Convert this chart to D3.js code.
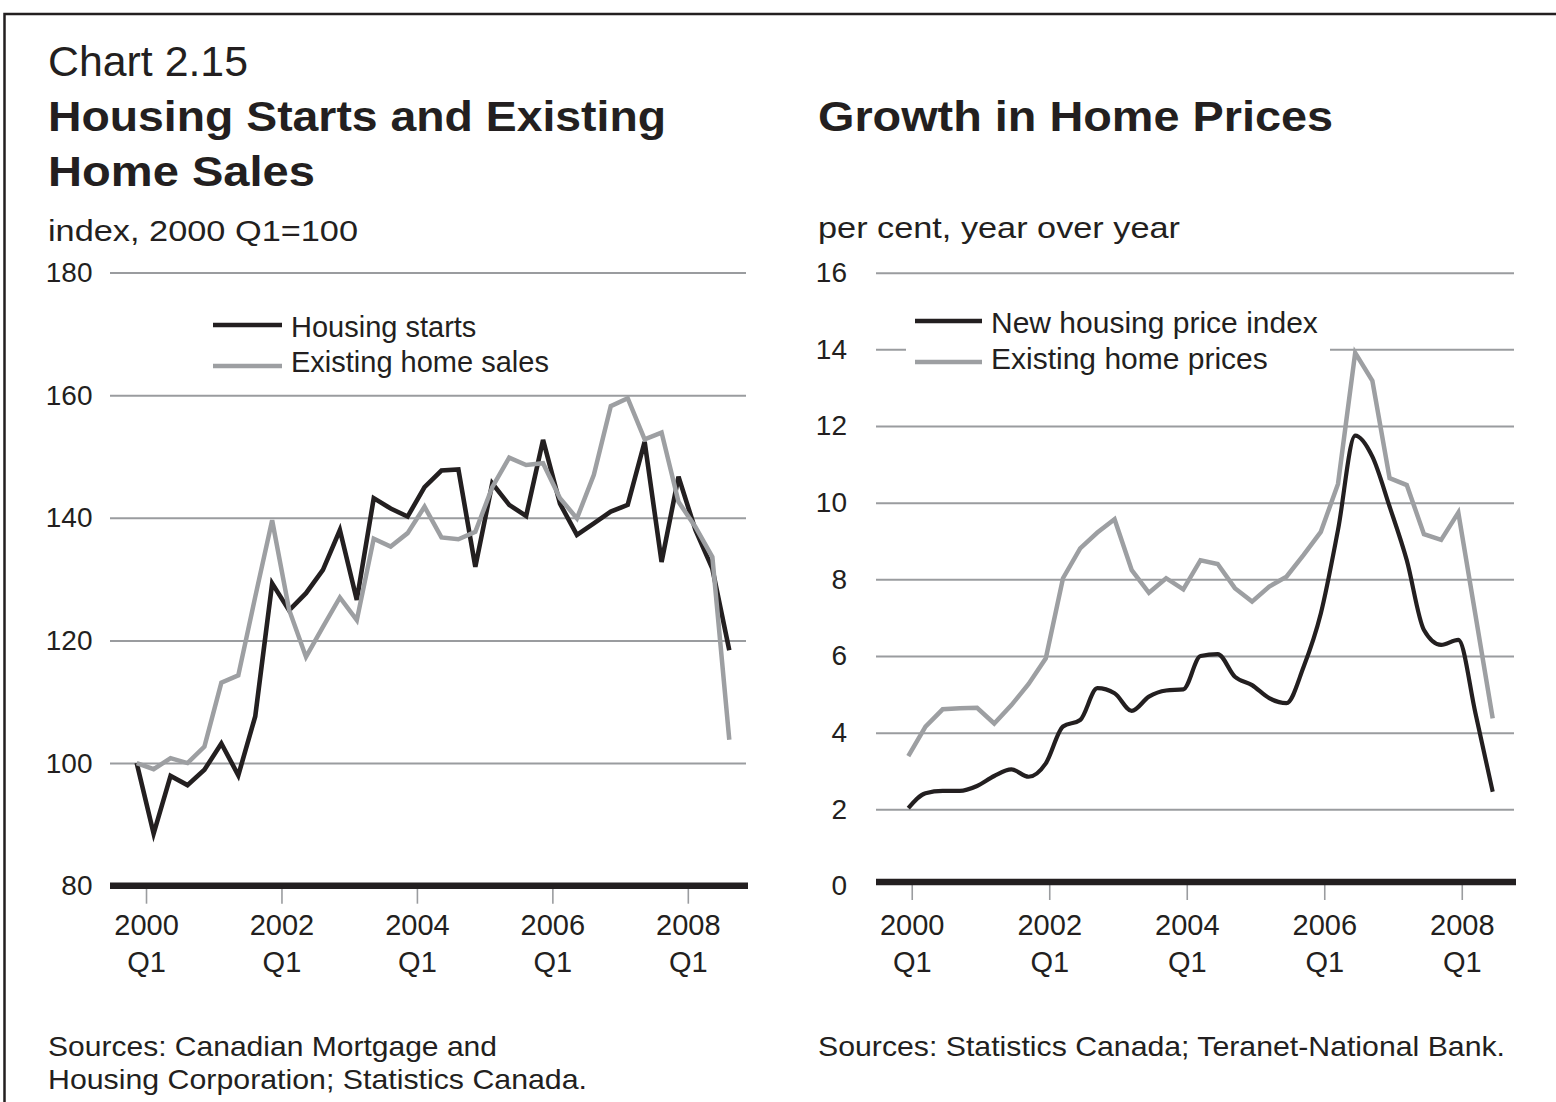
<!DOCTYPE html>
<html>
<head>
<meta charset="utf-8">
<title>Chart 2.15</title>
<script src="https://cdn.jsdelivr.net/npm/d3@7/dist/d3.min.js"></script>
<style>
	body { margin: 0; background: #fff; }
	svg text { font-family: "Liberation Sans", Arial, Helvetica, sans-serif; fill: #231f20; }
</style>
</head>
<body>
<svg id="chart" width="1556" height="1102"></svg>
<script>

	// ---- data ----

	var quarters = [
		'2000Q1', '2000Q2', '2000Q3', '2000Q4', '2001Q1', '2001Q2', '2001Q3', '2001Q4',
		'2002Q1', '2002Q2', '2002Q3', '2002Q4', '2003Q1', '2003Q2', '2003Q3', '2003Q4',
		'2004Q1', '2004Q2', '2004Q3', '2004Q4', '2005Q1', '2005Q2', '2005Q3', '2005Q4',
		'2006Q1', '2006Q2', '2006Q3', '2006Q4', '2007Q1', '2007Q2', '2007Q3', '2007Q4',
		'2008Q1', '2008Q2', '2008Q3', '2008Q4'
	];

	var tickQuarters = [ '2000Q1', '2002Q1', '2004Q1', '2006Q1', '2008Q1' ];

	// left panel, index 2000 Q1 = 100
	var housingStarts = [
		100, 88.5, 97.9, 96.4, 98.9, 103.2, 98.0, 107.6, 129.3, 124.9, 127.7, 131.5,
		138.0, 126.6, 143.2, 141.5, 140.2, 145.0, 147.7, 147.9, 132.0, 145.6, 142.1, 140.3,
		152.7, 142.3, 137.2, 139.1, 141.0, 142.1, 152.4, 132.8, 146.7, 138.0, 131.7, 118.4
	];

	var existingSales = [
		100, 99.0, 100.8, 100.0, 102.7, 113.1, 114.3, 127.1, 139.6, 125.0, 117.3, 122.2,
		127.0, 123.3, 136.6, 135.3, 137.5, 141.8, 136.8, 136.5, 137.7, 145.0, 149.8, 148.6,
		148.9, 143.2, 139.9, 147.0, 158.2, 159.5, 152.8, 153.9, 142.6, 138.5, 133.6, 103.8
	];

	// right panel, per cent y/y (ends 2008 Q3)
	var newHousingPrice = [
		2.03, 2.42, 2.48, 2.48, 2.61, 2.87, 3.04, 2.85, 3.2, 4.16, 4.33, 5.16,
		5.03, 4.57, 4.94, 5.1, 5.13, 6.0, 6.05, 5.46, 5.24, 4.9, 4.77, 5.72,
		7.11, 9.29, 11.75, 11.2, 9.9, 8.5, 6.68, 6.29, 6.42, 4.5, 2.46
	];

	var existingPrices = [
		3.39, 4.16, 4.61, 4.64, 4.65, 4.24, 4.72, 5.27, 5.94, 8.03, 8.81, 9.22,
		9.57, 8.24, 7.65, 8.03, 7.74, 8.5, 8.4, 7.77, 7.42, 7.81, 8.07, 8.64,
		9.24, 10.49, 13.91, 13.18, 10.64, 10.46, 9.18, 9.03, 9.74, 7.06, 4.37
	];

	var leftTicks = [ 80, 100, 120, 140, 160, 180 ];
	var rightTicks = [ 0, 2, 4, 6, 8, 10, 12, 14, 16 ];

	var leftLegend = [ 'Housing starts', 'Existing home sales' ];
	var rightLegend = [ 'New housing price index', 'Existing home prices' ];


	// ---- look ----

	var BLACK = '#231f20',
		GREY = '#9d9fa2',
		GRID = '#9a9c9f';

	var svg = d3.select( '#chart' );

	// frame (top and left edge only show in the picture)
	svg.append( 'path' )
		.attr( 'd', 'M4.5,1102V14H1556' )
		.attr( 'fill', 'none' )
		.attr( 'stroke', BLACK )
		.attr( 'stroke-width', 2.5 );


	/**
	 * Writes a line of text, optionally squeezed to a given width.
	 */
	function label( x, y, str, size, weight, width ) {
		var t = svg.append( 'text' )
			.attr( 'x', x )
			.attr( 'y', y )
			.attr( 'font-size', size )
			.attr( 'font-weight', weight || 'normal' )
			.text( str );
		if ( width ) {
			t.attr( 'textLength', width ).attr( 'lengthAdjust', 'spacingAndGlyphs' );
		}
		return t;
	}

	label( 48, 76, 'Chart 2.15', 42, 'normal', 200 );
	label( 48, 131, 'Housing Starts and Existing', 43, 'bold', 618 );
	label( 48, 186, 'Home Sales', 43, 'bold', 267 );
	label( 818, 131, 'Growth in Home Prices', 43, 'bold', 515 );

	label( 48, 241, 'index, 2000 Q1=100', 29, 'normal', 310 );
	label( 818, 238, 'per cent, year over year', 29, 'normal', 362 );

	label( 48, 1056, 'Sources: Canadian Mortgage and', 28, 'normal', 449 );
	label( 48, 1089, 'Housing Corporation; Statistics Canada.', 28, 'normal', 539 );
	label( 818, 1056, 'Sources: Statistics Canada; Teranet-National Bank.', 28, 'normal', 687 );


	/**
	 * Draws one panel: grid, base line, quarter axis, two series, legend.
	 */
	function panel( opt ) {
		var g = svg.append( 'g' );
		var cats = quarters.slice( 0, opt.series[ 0 ].values.length );

		var x = d3.scalePoint()
			.domain( cats )
			.range( [ opt.x0, opt.x1 ] );

		var y = d3.scaleLinear()
			.domain( d3.extent( opt.ticks ) )
			.range( [ opt.yBase, opt.yTop ] );

		// horizontal grid + value labels
		var yAxis = d3.axisLeft( y )
			.tickValues( opt.ticks )
			.tickSize( -( opt.gx1 - opt.gx0 ) )
			.tickPadding( opt.pad );

		var ya = g.append( 'g' )
			.attr( 'transform', 'translate(' + opt.gx0 + ',0)' )
			.call( yAxis );
		ya.select( '.domain' ).remove();
		ya.selectAll( '.tick line' )
			.attr( 'stroke', GRID )
			.attr( 'stroke-width', 2 );
		ya.selectAll( '.tick' ).filter( function( d ) { return d === opt.ticks[ 0 ]; } )
			.select( 'line' ).remove();
		ya.selectAll( '.tick text' )
			.attr( 'font-size', 28 )
			.attr( 'font-family', null )
			.attr( 'fill', BLACK )
			.attr( 'dy', '0.32em' );

		// legend box knocks out the grid behind it
		var lg = g.append( 'g' );
		lg.append( 'rect' )
			.attr( 'x', opt.legend.x - 9 )
			.attr( 'y', opt.legend.y - 20 )
			.attr( 'width', opt.legend.w )
			.attr( 'height', 74 )
			.attr( 'fill', '#fff' );

		opt.series.forEach( function( s, i ) {
			var ly = opt.legend.y + i * opt.legend.gap;
			lg.append( 'line' )
				.attr( 'x1', opt.legend.x )
				.attr( 'x2', opt.legend.x + opt.legend.len )
				.attr( 'y1', ly + s.legendDy )
				.attr( 'y2', ly + s.legendDy )
				.attr( 'stroke', s.color )
				.attr( 'stroke-width', 4.5 );
			lg.append( 'text' )
				.attr( 'x', opt.legend.x + opt.legend.len + 9 )
				.attr( 'y', ly + 12 )
				.attr( 'font-size', opt.legend.size )
				.text( opt.legendText[ i ] );
		} );

		// quarter axis: ticks sit a little right of the data points
		var shift = x.step() * opt.tickShift;
		var xTick = x.copy().range( [ opt.x0 + shift, opt.x1 + shift ] );

		var xAxis = d3.axisBottom( xTick )
			.tickValues( tickQuarters )
			.tickSize( 15 )
			.tickFormat( function( d ) { return d.slice( 0, 4 ); } );

		var xa = g.append( 'g' )
			.attr( 'transform', 'translate(0,' + ( opt.baseY + 3 ) + ')' )
			.call( xAxis );
		xa.select( '.domain' ).remove();
		xa.selectAll( '.tick line' )
			.attr( 'stroke', GRID )
			.attr( 'stroke-width', 1.6 );
		xa.selectAll( '.tick text' )
			.attr( 'font-size', 29 )
			.attr( 'font-family', null )
			.attr( 'fill', BLACK )
			.attr( 'dy', null )
			.attr( 'y', opt.labelY );
		xa.selectAll( '.tick' ).append( 'text' )
			.attr( 'font-size', 29 )
			.attr( 'fill', BLACK )
			.attr( 'text-anchor', 'middle' )
			.attr( 'y', opt.labelY + 37 )
			.text( function( d ) { return 'Q' + d.slice( 5 ); } );

		// the series
		opt.series.forEach( function( s ) {
			var line = d3.line()
				.x( function( d, i ) { return x( cats[ i ] ); } )
				.y( function( d ) { return y( d ); } )
				.curve( s.curve || d3.curveLinear );

			g.append( 'path' )
				.datum( s.values )
				.attr( 'd', line )
				.attr( 'fill', 'none' )
				.attr( 'stroke', s.color )
				.attr( 'stroke-width', s.width )
				.attr( 'stroke-linejoin', 'miter' );
		} );

		// heavy base line
		g.append( 'line' )
			.attr( 'x1', opt.gx0 )
			.attr( 'x2', opt.gx1 + 2 )
			.attr( 'y1', opt.baseY )
			.attr( 'y2', opt.baseY )
			.attr( 'stroke', BLACK )
			.attr( 'stroke-width', 6.5 );
	}


	panel( {
		x0: 136.7, x1: 729.3,
		yTop: 272.5, yBase: 885.7, baseY: 885.7,
		gx0: 110, gx1: 746, pad: 17.5,
		tickShift: 0.55, labelY: 46,
		ticks: leftTicks,
		legendText: leftLegend,
		legend: { x: 213, y: 325, gap: 35, len: 69, w: 0, size: 29 },
		series: [
			{ values: existingSales, color: GREY, width: 4.5, legendDy: 6 },
			{ values: housingStarts, color: BLACK, width: 4.6, legendDy: 0 }
		].reverse()
	} );

	panel( {
		x0: 908.3, x1: 1492.7,
		yTop: 272.7, yBase: 886, baseY: 882,
		gx0: 876, gx1: 1514, pad: 29,
		tickShift: 0.2, labelY: 50,
		ticks: rightTicks,
		legendText: rightLegend,
		legend: { x: 915, y: 321, gap: 36, len: 67, w: 424, size: 30 },
		series: [
			{ values: newHousingPrice, color: BLACK, width: 4.2, legendDy: 0, curve: d3.curveMonotoneX },
			{ values: existingPrices, color: GREY, width: 4.5, legendDy: 5 }
		]
	} );

</script>
</body>
</html>
